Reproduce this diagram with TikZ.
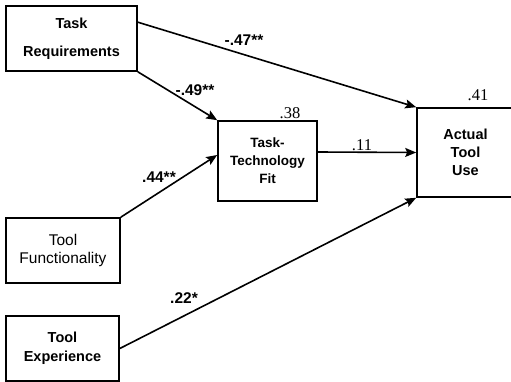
\documentclass[tikz,border=0pt]{standalone}
\usepackage{fontspec}
\setmainfont{Liberation Sans}
\newfontfamily\numfont{Liberation Serif}
\usetikzlibrary{arrows.meta}
\begin{document}
\begin{tikzpicture}[x=1pt,y=-1pt,
  box/.style={draw, line width=1.6pt, inner sep=0pt, align=center,
    font=\fontsize{14.5}{18}\selectfont\bfseries},
  link/.style={line width=1.6pt, -{Stealth[length=11pt,width=9pt,inset=2pt]}},
  coef/.style={font=\fontsize{15.5}{16}\selectfont\bfseries, inner sep=0pt},
  rsq/.style={font=\fontsize{16.5}{18}\selectfont\numfont, inner sep=0pt}]
\clip (0,0) rectangle (511,382);

% constructs
\node[box, minimum width=131pt, minimum height=65pt] (tr) at (71.5,38.5)
  {Task\\[10pt]Requirements};
\node[box, minimum width=114pt, minimum height=65pt,
  font=\fontsize{15.5}{18}\selectfont] (tf) at (63,250.5)
  {Tool\\Functionality};
\node[box, minimum width=113pt, minimum height=65pt] (te) at (62.5,348.5)
  {Tool\\[1pt]Experience};
\node[box, minimum width=99pt, minimum height=80pt,
  font=\fontsize{13.5}{18}\selectfont\bfseries] (ttf) at (267.5,161)
  {Task-\\Technology\\Fit};
\node[box, minimum width=97pt, minimum height=89pt] (atu) at (465.5,152.5)
  {Actual\\Tool\\Use};

% paths
\draw[link] ([yshift=-17pt]tr.north east) -- (atu.north west);
\draw[link] (tr.south east) -- (ttf.north west);
\draw[link] (tf.north east) -- ([yshift=6pt]ttf.west);
\draw[link] ([yshift=9pt]ttf.east) -- (atu.west);
\draw[link] (te.east) -- (atu.south west);

% path coefficients
\node[coef] (c1) at (244,40) {-.47**};
\node[coef] (c2) at (195,90) {-.49**};
\node[coef] (c3) at (159,177) {.44**};
\node[coef] (c4) at (184,298) {.22*};
\node[rsq] (c5) at (362,145) {.11};

% explained variance
\node[rsq] (r1) at (290,113) {.38};
\node[rsq] (r2) at (478,95) {.41};
\end{tikzpicture}
\end{document}
